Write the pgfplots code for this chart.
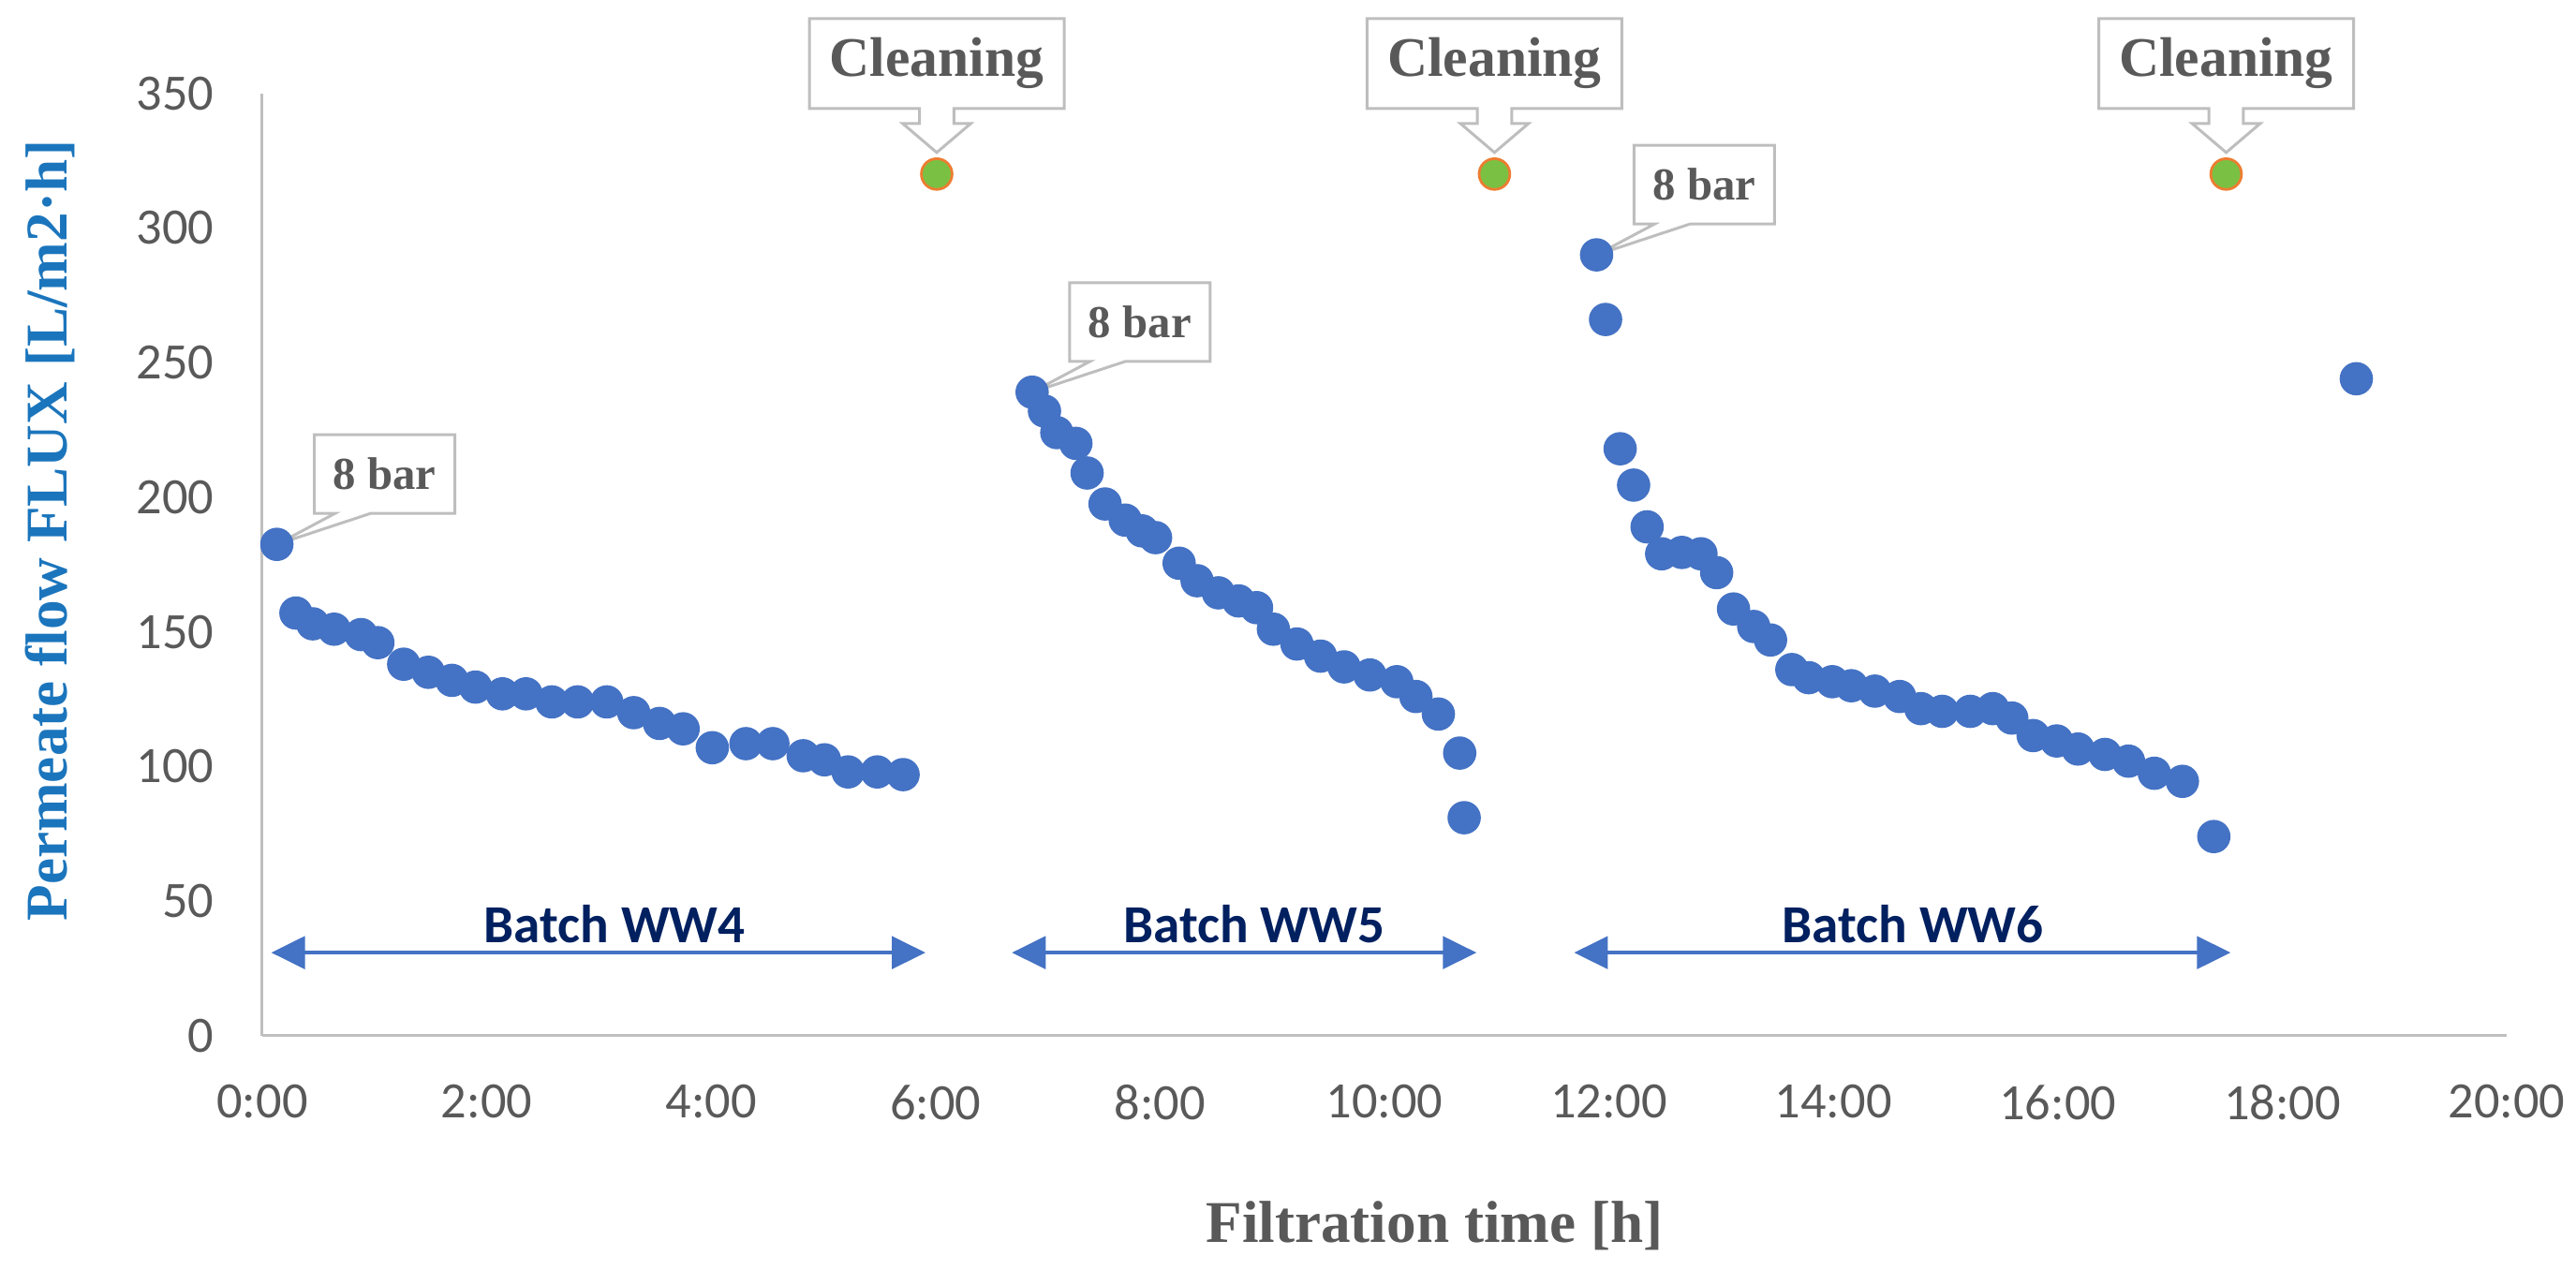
\documentclass[border=0pt]{standalone}
\usepackage{fontspec}
\setmainfont{Liberation Serif}
\newfontfamily\carlito{Carlito}
\usepackage{pgfplots}
\pgfplotsset{compat=1.18}
\usepackage{pgfplotstable}
\usetikzlibrary{arrows.meta}

\definecolor{ptblue}{HTML}{4472C4}
\definecolor{labblue}{HTML}{1B75BC}
\definecolor{tickgray}{HTML}{595959}
\definecolor{axgray}{HTML}{BFBFBF}
\definecolor{callgray}{HTML}{BEBEBE}
\definecolor{navy}{HTML}{002060}
\definecolor{cleangreen}{HTML}{7AC143}
\definecolor{cleanorange}{HTML}{ED7D31}

\pgfplotstableread{
x y
0.13 182.5
0.30 157
0.45 153
0.64 151
0.88 149
1.03 146
1.26 138
1.48 135
1.69 132
1.90 129.5
2.14 127
2.35 127
2.58 124
2.81 124
3.07 124
3.31 120
3.54 116
3.75 114
4.01 107
4.31 108.5
4.55 108.5
4.82 104
5.01 102.5
5.22 98
5.48 98
5.71 97
}\wwfour

\pgfplotstableread{
x y
6.86 239
6.97 232
7.08 224
7.25 220
7.35 209
7.51 197.5
7.69 191.5
7.84 187.5
7.96 185
8.17 175.5
8.33 169
8.52 164.5
8.70 161.5
8.86 159
9.01 151
9.22 145.5
9.43 141
9.64 137
9.87 134
10.11 131.5
10.28 126
10.48 119.5
10.67 105
10.71 81
}\wwfive

\pgfplotstableread{
x y
11.89 290
11.97 266
12.10 218
12.22 204.5
12.34 189
12.47 179
12.65 179.5
12.82 179
12.96 172
13.11 158.5
13.29 152
13.44 147
13.63 136
13.78 133
13.99 131.5
14.16 130
14.37 128
14.59 126
14.78 121.5
14.97 120.5
15.22 120.5
15.42 121.5
15.59 118
15.78 111.5
15.99 109.5
16.18 106.5
16.42 104.5
16.63 102
16.86 97.5
17.11 94.5
17.39 74
}\wwsix

\pgfplotstableread{
x y
18.66 244
}\extra

\pgfplotstableread{
x y
6.01 320
10.98 320
17.50 320
}\cleaning

\begin{document}
\begin{tikzpicture}
\path[use as bounding box] (-70pt,-62.5pt) rectangle (617.5pt,276.5pt);
\begin{axis}[
  at={(0,0)}, anchor=south west,
  scale only axis, width=599pt, height=251.6pt,
  xmin=0, xmax=20, ymin=0, ymax=350,
  axis lines=left,
  axis line style={draw=axgray, line width=0.75pt, -},
  xtick={0,2,4,6,8,10,12,14,16,18,20},
  xticklabels={0:00,2:00,4:00,6:00,8:00,10:00,12:00,14:00,16:00,18:00,20:00},
  ytick={0,50,100,150,200,250,300,350},
  major tick length=0pt,
  tick style={draw=none},
  /pgf/number format/assume math mode=true,
  ticklabel style={font=\carlito\fontsize{13.6}{16}\selectfont, text=tickgray, inner sep=0pt},
  yticklabel style={anchor=east, xshift=-12.75pt},
  xticklabel style={anchor=north, yshift=-12.9pt},
  xlabel={Filtration time [h]},
  ylabel={Permeate flow FLUX [L/m2·h]},
  xlabel style={at={(axis description cs:0.5223,-0.2017)}, anchor=center, font=\bfseries\fontsize{15.8}{18}\selectfont, text=tickgray, inner sep=0pt},
  ylabel style={at={(axis description cs:-0.0947,0.536)}, anchor=center, font=\bfseries\fontsize{15.8}{18}\selectfont, text=labblue, inner sep=0pt},
  clip=false,
]
\addplot[only marks, mark=*, mark size=4.25pt, mark options={draw=ptblue, fill=ptblue}] table {\wwfour};
\addplot[only marks, mark=*, mark size=4.25pt, mark options={draw=ptblue, fill=ptblue}] table {\wwfive};
\addplot[only marks, mark=*, mark size=4.25pt, mark options={draw=ptblue, fill=ptblue}] table {\wwsix};
\addplot[only marks, mark=*, mark size=4.25pt, mark options={draw=ptblue, fill=ptblue}] table {\extra};
\addplot[only marks, mark=*, mark size=4.1pt, mark options={draw=cleanorange, fill=cleangreen, line width=0.7pt}] table {\cleaning};

% batch arrows
\draw[ptblue, line width=1.1pt, {Triangle[length=9pt,width=8.6pt]}-{Triangle[length=9pt,width=8.6pt]}] (axis cs:0.08,30.9) -- (axis cs:5.91,30.9);
\draw[ptblue, line width=1.1pt, {Triangle[length=9pt,width=8.6pt]}-{Triangle[length=9pt,width=8.6pt]}] (axis cs:6.68,30.9) -- (axis cs:10.82,30.9);
\draw[ptblue, line width=1.1pt, {Triangle[length=9pt,width=8.6pt]}-{Triangle[length=9pt,width=8.6pt]}] (axis cs:11.69,30.9) -- (axis cs:17.54,30.9);
\node[font=\carlito\bfseries\fontsize{14.3}{16}\selectfont, text=navy] at (axis cs:3.14,41.4) {Batch WW4};
\node[font=\carlito\bfseries\fontsize{14.3}{16}\selectfont, text=navy] at (axis cs:8.84,41.4) {Batch WW5};
\node[font=\carlito\bfseries\fontsize{14.3}{16}\selectfont, text=navy] at (axis cs:14.71,41.4) {Batch WW6};

% 8 bar callouts
\draw[callgray, line width=0.75pt, fill=white] ([shift={(10pt,8.25pt)}]axis cs:0.13,182.5) -- ([shift={(10pt,29.25pt)}]axis cs:0.13,182.5) -- ([shift={(47.5pt,29.25pt)}]axis cs:0.13,182.5) -- ([shift={(47.5pt,8.25pt)}]axis cs:0.13,182.5) -- ([shift={(25pt,8.25pt)}]axis cs:0.13,182.5) -- (axis cs:0.13,182.5) -- ([shift={(15.5pt,8.25pt)}]axis cs:0.13,182.5) -- cycle;
\node[font=\bfseries\fontsize{12.2}{14}\selectfont, text=tickgray] at ([shift={(28.75pt,18.75pt)}]axis cs:0.13,182.5) {8 bar};

\draw[callgray, line width=0.75pt, fill=white] ([shift={(10pt,8.25pt)}]axis cs:6.86,239) -- ([shift={(10pt,29.25pt)}]axis cs:6.86,239) -- ([shift={(47.5pt,29.25pt)}]axis cs:6.86,239) -- ([shift={(47.5pt,8.25pt)}]axis cs:6.86,239) -- ([shift={(25pt,8.25pt)}]axis cs:6.86,239) -- (axis cs:6.86,239) -- ([shift={(15.5pt,8.25pt)}]axis cs:6.86,239) -- cycle;
\node[font=\bfseries\fontsize{12.2}{14}\selectfont, text=tickgray] at ([shift={(28.75pt,18.75pt)}]axis cs:6.86,239) {8 bar};

\draw[callgray, line width=0.75pt, fill=white] ([shift={(10pt,8.25pt)}]axis cs:11.89,290) -- ([shift={(10pt,29.25pt)}]axis cs:11.89,290) -- ([shift={(47.5pt,29.25pt)}]axis cs:11.89,290) -- ([shift={(47.5pt,8.25pt)}]axis cs:11.89,290) -- ([shift={(25pt,8.25pt)}]axis cs:11.89,290) -- (axis cs:11.89,290) -- ([shift={(15.5pt,8.25pt)}]axis cs:11.89,290) -- cycle;
\node[font=\bfseries\fontsize{12.2}{14}\selectfont, text=tickgray] at ([shift={(28.75pt,18.75pt)}]axis cs:11.89,290) {8 bar};

% Cleaning callouts
\draw[callgray, line width=0.75pt, fill=white] ([shift={(-34pt,17.5pt)}]axis cs:6.01,320) -- ([shift={(-34pt,41.5pt)}]axis cs:6.01,320) -- ([shift={(34pt,41.5pt)}]axis cs:6.01,320) -- ([shift={(34pt,17.5pt)}]axis cs:6.01,320) -- ([shift={(4.6pt,17.5pt)}]axis cs:6.01,320) -- ([shift={(4.6pt,13.5pt)}]axis cs:6.01,320) -- ([shift={(9.1pt,13.5pt)}]axis cs:6.01,320) -- ([shift={(0pt,5.75pt)}]axis cs:6.01,320) -- ([shift={(-9.1pt,13.5pt)}]axis cs:6.01,320) -- ([shift={(-4.6pt,13.5pt)}]axis cs:6.01,320) -- ([shift={(-4.6pt,17.5pt)}]axis cs:6.01,320) -- cycle;
\node[font=\bfseries\fontsize{14.9}{16}\selectfont, text=tickgray] at ([shift={(0pt,29.5pt)}]axis cs:6.01,320) {Cleaning};

\draw[callgray, line width=0.75pt, fill=white] ([shift={(-34pt,17.5pt)}]axis cs:10.98,320) -- ([shift={(-34pt,41.5pt)}]axis cs:10.98,320) -- ([shift={(34pt,41.5pt)}]axis cs:10.98,320) -- ([shift={(34pt,17.5pt)}]axis cs:10.98,320) -- ([shift={(4.6pt,17.5pt)}]axis cs:10.98,320) -- ([shift={(4.6pt,13.5pt)}]axis cs:10.98,320) -- ([shift={(9.1pt,13.5pt)}]axis cs:10.98,320) -- ([shift={(0pt,5.75pt)}]axis cs:10.98,320) -- ([shift={(-9.1pt,13.5pt)}]axis cs:10.98,320) -- ([shift={(-4.6pt,13.5pt)}]axis cs:10.98,320) -- ([shift={(-4.6pt,17.5pt)}]axis cs:10.98,320) -- cycle;
\node[font=\bfseries\fontsize{14.9}{16}\selectfont, text=tickgray] at ([shift={(0pt,29.5pt)}]axis cs:10.98,320) {Cleaning};

\draw[callgray, line width=0.75pt, fill=white] ([shift={(-34pt,17.5pt)}]axis cs:17.5,320) -- ([shift={(-34pt,41.5pt)}]axis cs:17.5,320) -- ([shift={(34pt,41.5pt)}]axis cs:17.5,320) -- ([shift={(34pt,17.5pt)}]axis cs:17.5,320) -- ([shift={(4.6pt,17.5pt)}]axis cs:17.5,320) -- ([shift={(4.6pt,13.5pt)}]axis cs:17.5,320) -- ([shift={(9.1pt,13.5pt)}]axis cs:17.5,320) -- ([shift={(0pt,5.75pt)}]axis cs:17.5,320) -- ([shift={(-9.1pt,13.5pt)}]axis cs:17.5,320) -- ([shift={(-4.6pt,13.5pt)}]axis cs:17.5,320) -- ([shift={(-4.6pt,17.5pt)}]axis cs:17.5,320) -- cycle;
\node[font=\bfseries\fontsize{14.9}{16}\selectfont, text=tickgray] at ([shift={(0pt,29.5pt)}]axis cs:17.5,320) {Cleaning};
\end{axis}
\end{tikzpicture}
\end{document}
